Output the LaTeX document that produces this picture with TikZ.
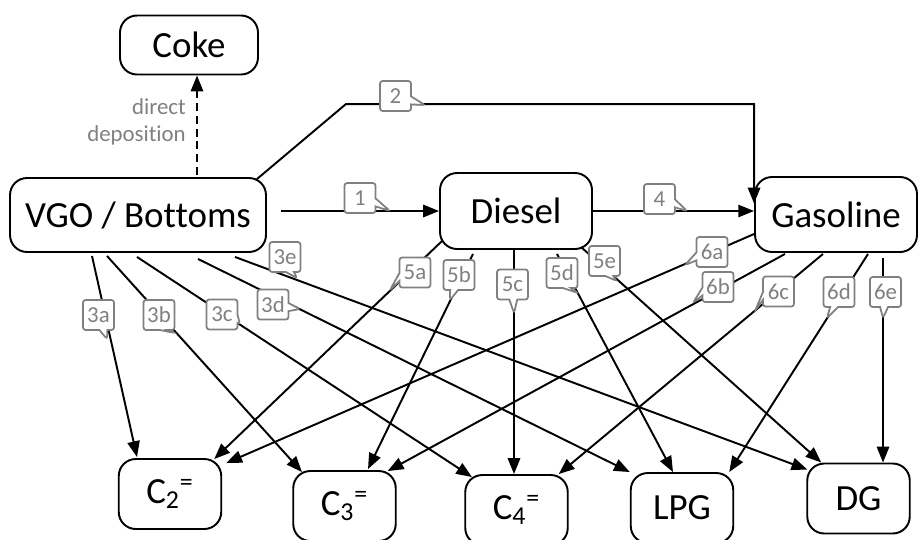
\documentclass[tikz,border=0pt]{standalone}
\usepackage{fontspec}
\setmainfont{Carlito}[Ligatures=NoCommon]
\usetikzlibrary{arrows.meta,calc,shapes.callouts}
\definecolor{fcedge}{RGB}{0,0,0}
\definecolor{fctag}{RGB}{128,128,128}
\tikzset{
  fcbox/.style={
    draw=fcedge, line width=1.1pt, rounded corners=0.34cm, fill=white,
    align=center, inner sep=2pt, font=\fontsize{21}{25}\selectfont
  },
  prod/.style={fcbox, minimum width=2.05cm, minimum height=1.4cm},
  arr/.style={-{Triangle[length=9pt,width=7pt]}, draw=fcedge, line width=1.1pt},
  darr/.style={arr, dash pattern=on 4.5pt off 2.8pt},
  tag/.style={
    rectangle callout, draw=fctag, fill=white, text=fctag, line width=1pt,
    rounded corners=1.5pt, font=\fontsize{13}{15}\selectfont, inner sep=1pt,
    minimum width=0.62cm, minimum height=0.6cm, callout pointer width=0.16cm
  },
  anno/.style={text=fctag, font=\fontsize{13}{15.5}\selectfont, align=right}
}
\begin{document}
\begin{tikzpicture}[x=0.02cm, y=-0.02cm]
  \useasboundingbox (0,0) rectangle (918,539);
  % feed and intermediates
  \node[fcbox, minimum width=2.76cm, minimum height=1.18cm] (coke) at (189,45) {Coke};
  \node[fcbox, minimum width=5.12cm, minimum height=1.48cm] (vgo) at (138,215) {VGO / Bottoms};
  \node[fcbox, minimum width=3.04cm, minimum height=1.52cm] (diesel) at (516,211) {Diesel};
  \node[fcbox, minimum width=3.24cm, minimum height=1.5cm] (gas) at (836,214.5) {Gasoline};
  % products
  \node[prod] (c2) at (170,494) {C\textsubscript{2}\textsuperscript{=}};
  \node[prod] (c3) at (344.5,506) {C\textsubscript{3}\textsuperscript{=}};
  \node[prod] (c4) at (516.5,510) {C\textsubscript{4}\textsuperscript{=}};
  \node[prod] (lpg) at (682,508) {LPG};
  \node[prod] (dg) at (858.5,498.5) {DG};

  % coke
  \draw[darr] ($(vgo.north)+(59,-2)$) coordinate (dd) -- (dd |- coke.south);
  \node[anno, anchor=east] (dep) at (192,122) {direct\\deposition};

  % main routes
  \draw[arr] ($(vgo.east |- diesel.west)+(14,0)$) -- (diesel.west);
  \draw[arr] ($(vgo.north east)+(-10,2)$) -- ++(89,-75) -| ($(gas.west)+(0,-11)$);
  \draw[arr] (diesel.east) -- (diesel.east -| gas.west);

  % from VGO / Bottoms
  \draw[arr] ($(vgo.south)+(-46,3)$) -- ($(c2.north)+(-33,-1)$);
  \draw[arr] ($(vgo.south)+(-31,3)$) -- ($(c3.north)+(-42.5,2)$);
  \draw[arr] ($(vgo.south)+(-1,4)$) -- ($(c4.north)+(-44.5,3)$);
  \draw[arr] ($(vgo.south)+(60,6)$) -- (lpg.north west);
  \draw[arr] ($(vgo.south)+(97,4)$) -- ($(dg.north west)+(1,7)$);

  % from Diesel
  \draw[arr] ($(diesel.south west)+(3,-9)$) -- ($(c2.north east)+(-8,1)$);
  \draw[arr] ($(diesel.south)+(-43,4)$) -- ($(c3.north)+(23.5,-1)$);
  \draw[arr] ($(diesel.south)+(-2,0)$) coordinate (p5c) -- (p5c |- c4.north);
  \draw[arr] ($(diesel.south)+(41,4)$) -- ($(lpg.north)+(-9,0)$);
  \draw[arr] ($(diesel.south east)+(-12,-3)$) -- ($(dg.north west)+(15,0)$);

  % from Gasoline
  \draw[arr] ($(gas.west)+(0,19.5)$) -- ($(c2.north east)+(4,5)$);
  \draw[arr] ($(gas.south)+(-51,1)$) -- ($(c3.north east)+(-9,1)$);
  \draw[arr] ($(gas.south)+(-13,1)$) -- ($(c4.north east)+(-10,0)$);
  \draw[arr] ($(gas.south)+(32,1)$) -- ($(lpg.north east)+(-5,0)$);
  \draw[arr] ($(gas.south)+(47,5)$) coordinate (p6e) -- (p6e |- dg.north);

  % route tags
  \foreach \n/\x/\y/\px/\py in {1/360/198/390/211, 2/395.5/96/425/105, 4/659.5/199/687/211,
      3a/98.5/315/107/339, 3b/159/315/175/333, 3c/222/314.5/240/324,
      3d/273/304.5/300/309, 3e/285/257/297/278,
      5a/415/272.5/390/290, 5b/459/275/450/300, 5c/512.5/284.5/514/313,
      5d/562/273/578/293, 5e/604.5/261/617/281,
      6a/712/252/685/265, 6b/718/287/693/303, 6c/778.5/291.5/755/311,
      6d/839/292/827/318, 6e/885.5/292/883/318}
    \node[tag, callout absolute pointer={(\px,\py)}] (t\n) at (\x,\y) {\n};
\end{tikzpicture}
\end{document}
